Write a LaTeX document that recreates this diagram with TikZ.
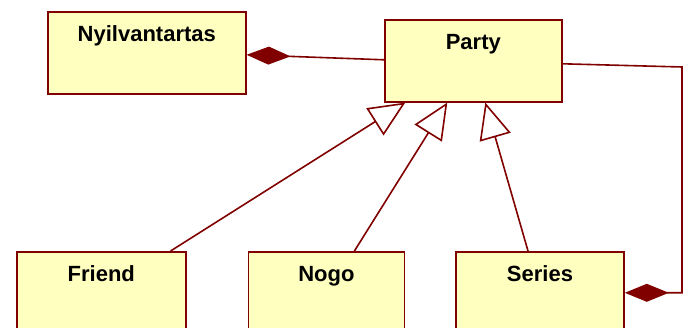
\documentclass[tikz,border=0pt]{standalone}
\usepackage{fontspec}
\setmainfont{Liberation Sans}
\usetikzlibrary{arrows.meta,positioning}
\definecolor{Maroon}{HTML}{800000}
\definecolor{PaleYellow}{HTML}{FFFFC0}
\tikzset{
  classbox/.style={draw=Maroon, fill=PaleYellow, line width=1.6pt, minimum height=82pt, inner xsep=4pt, inner ysep=14pt, text height=16pt, text depth=38pt, font=\fontsize{22}{26}\selectfont\bfseries, anchor=north west},
  gen/.style={-{Triangle[open, length=36pt, width=32pt, fill=white]}, line width=1.6pt, draw=Maroon},
  comp/.style={-{Diamond[length=44pt, width=18pt]}, line width=1.6pt, draw=Maroon}
}
\begin{document}
\begin{tikzpicture}[x=1pt, y=-1pt]
\useasboundingbox (0,0) rectangle (686,328);
\node[classbox,minimum width=198pt] (nyil) at (47,11) {Nyilvantartas};
\node[classbox,minimum width=177pt] (party) at (384,19) {Party};
\node[classbox,minimum width=169pt] (friend) at (16,251) {Friend};
\node[classbox,minimum width=156pt,right=61pt of friend] (nogo) {Nogo};
\node[classbox,minimum width=168pt,right=50pt of nogo] (series) {Series};
\coordinate (bend) at (682,67);
\draw[comp] ([yshift=1pt]party.west) -- ([yshift=-2pt]nyil.east);
\draw[comp] ([yshift=-3pt]party.east) -- (bend) -- (bend |- series.east) -- (series.east);
\draw[gen] ([xshift=-16pt]friend.north east) -- ([xshift=-68pt]party.south);
\draw[gen] ([xshift=28pt]nogo.north) -- ([xshift=-26pt]party.south);
\draw[gen] ([xshift=-12pt]series.north) -- ([xshift=12pt]party.south);
\end{tikzpicture}
\end{document}
